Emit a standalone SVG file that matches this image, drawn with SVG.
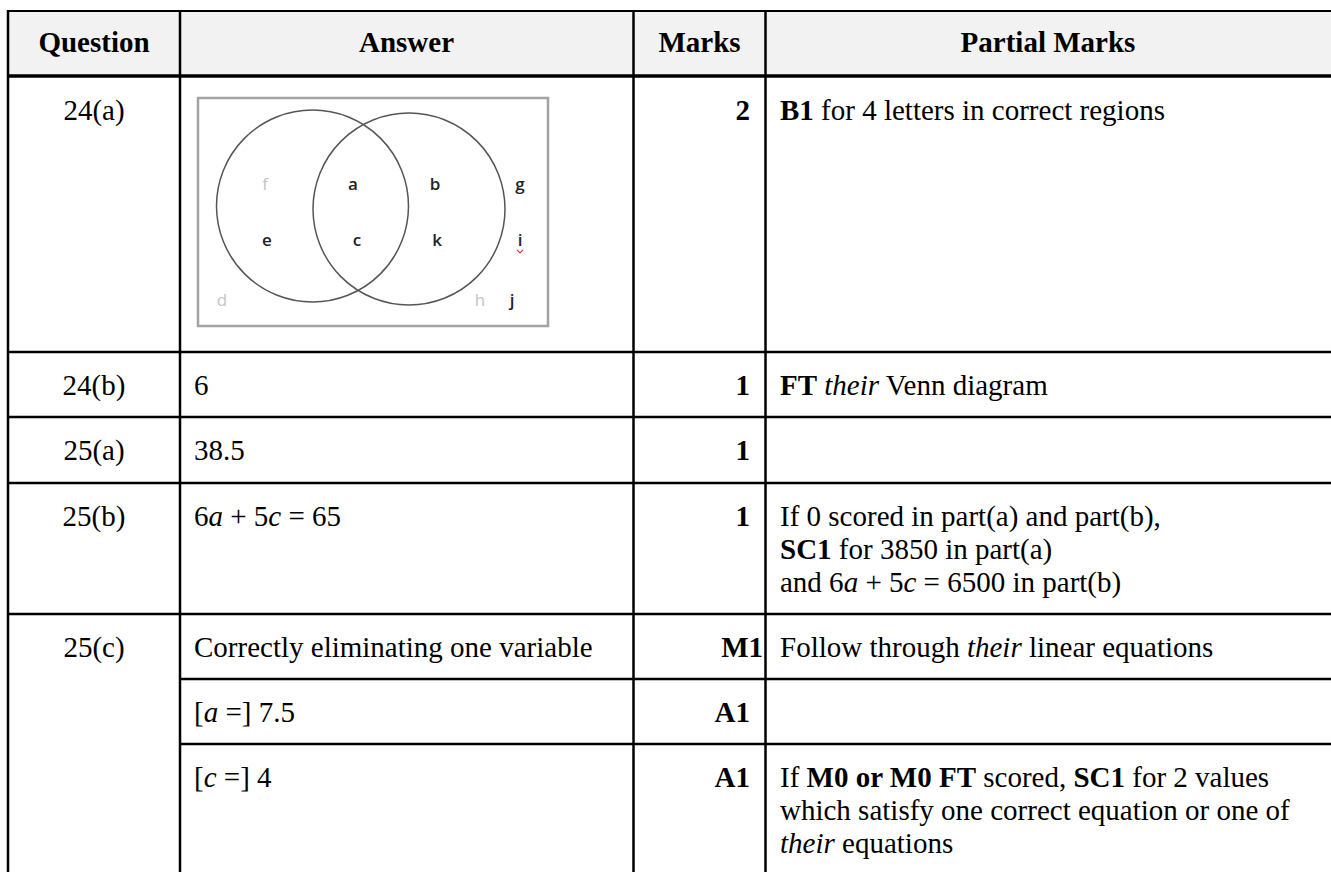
<svg xmlns="http://www.w3.org/2000/svg" width="1331" height="872" viewBox="0 0 1331 872">
<style>
text{font-family:"Liberation Serif","Times New Roman",serif;font-size:29px;fill:#000}
.h{font-weight:bold;text-anchor:middle}
.q{text-anchor:middle}
.m{font-weight:bold;text-anchor:end}
.b{font-weight:bold}
.i{font-style:italic}
.grid{stroke:#000;stroke-width:2.5;fill:none}
.v{font-family:"Open Sans","Liberation Sans",sans-serif;font-size:17px;text-anchor:middle;fill:#222;font-weight:600}
.vl{fill:#c4c4c4;font-weight:normal}
</style>
<rect x="0" y="0" width="1331" height="872" fill="#fff"/>
<rect x="8" y="11" width="1323" height="65" fill="#f2f2f2"/>
<g id="grid" class="grid">
<line x1="8" y1="11" x2="1331" y2="11" stroke-width="2"/>
<line x1="8" y1="76" x2="1331" y2="76" stroke-width="3.5"/>
<line x1="8" y1="352" x2="1331" y2="352"/>
<line x1="8" y1="417" x2="1331" y2="417"/>
<line x1="8" y1="483" x2="1331" y2="483"/>
<line x1="8" y1="614" x2="1331" y2="614"/>
<line x1="180" y1="679" x2="1331" y2="679"/>
<line x1="180" y1="744" x2="1331" y2="744"/>
<line x1="8" y1="10" x2="8" y2="872"/>
<line x1="180" y1="10" x2="180" y2="872"/>
<line x1="633.5" y1="10" x2="633.5" y2="872"/>
<line x1="765.5" y1="10" x2="765.5" y2="872"/>
</g>
<g id="header">
<text class="h" x="94" y="52">Question</text>
<text class="h" x="406.5" y="52">Answer</text>
<text class="h" x="699.5" y="52">Marks</text>
<text class="h" x="1048" y="52">Partial Marks</text>
</g>
<g id="row-24a">
<text class="q" x="94" y="120">24(a)</text>
<g id="venn">
<rect x="198" y="98" width="350" height="228" fill="#fff" stroke="#a3a3a3" stroke-width="2.5"/>
<circle cx="312.5" cy="206" r="96" fill="none" stroke="#555" stroke-width="1.5"/>
<circle cx="409" cy="209" r="96" fill="none" stroke="#555" stroke-width="1.5"/>
<text class="v vl" x="265" y="190">f</text>
<text class="v" x="353" y="190">a</text>
<text class="v" x="435" y="190">b</text>
<text class="v" x="520" y="190">g</text>
<text class="v" x="267" y="246">e</text>
<text class="v" x="357" y="246">c</text>
<text class="v" x="437" y="246">k</text>
<text class="v" x="520" y="246">i</text>
<path d="M517 250 L520 253 L523 250" fill="none" stroke="#e04040" stroke-width="1.2"/>
<text class="v vl" x="222" y="306">d</text>
<text class="v vl" x="480" y="306">h</text>
<text class="v" x="512" y="306">j</text>
</g>
<text class="m" x="750" y="120">2</text>
<text x="780" y="120"><tspan class="b">B1</tspan> for 4 letters in correct regions</text>
</g>
<g id="row-24b">
<text class="q" x="94" y="395">24(b)</text>
<text x="194" y="395">6</text>
<text class="m" x="750" y="395">1</text>
<text x="780" y="395"><tspan class="b">FT</tspan> <tspan class="i">their</tspan> Venn diagram</text>
</g>
<g id="row-25a">
<text class="q" x="94" y="460">25(a)</text>
<text x="194" y="460">38.5</text>
<text class="m" x="750" y="460">1</text>
</g>
<g id="row-25b">
<text class="q" x="94" y="526">25(b)</text>
<text x="194" y="526">6<tspan class="i">a</tspan> + 5<tspan class="i">c</tspan> = 65</text>
<text class="m" x="750" y="526">1</text>
<text x="780" y="526">If 0 scored in part(a) and part(b),</text>
<text x="780" y="559"><tspan class="b">SC1</tspan> for 3850 in part(a)</text>
<text x="780" y="592">and 6<tspan class="i">a</tspan> + 5<tspan class="i">c</tspan> = 6500 in part(b)</text>
</g>
<g id="row-25c">
<text class="q" x="94" y="657">25(c)</text>
<text x="194" y="657">Correctly eliminating one variable</text>
<text class="m" x="763" y="657">M1</text>
<text x="780" y="657">Follow through <tspan class="i">their</tspan> linear equations</text>
<text x="194" y="722">[<tspan class="i">a</tspan> =] 7.5</text>
<text class="m" x="750" y="722">A1</text>
<text x="194" y="787">[<tspan class="i">c</tspan> =] 4</text>
<text class="m" x="750" y="787">A1</text>
<text x="780" y="787">If <tspan class="b">M0 or M0 FT</tspan> scored, <tspan class="b">SC1</tspan> for 2 values</text>
<text x="780" y="820">which satisfy one correct equation or one of</text>
<text x="780" y="853"><tspan class="i">their</tspan> equations</text>
</g>
</svg>
